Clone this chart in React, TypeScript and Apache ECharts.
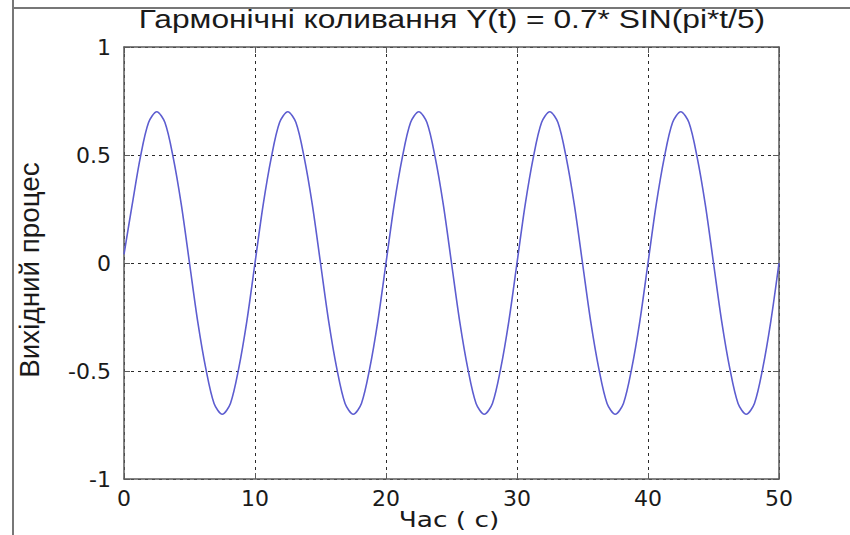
import React, { useEffect, useRef } from "react";
import * as echarts from "echarts";

const titleText = "Гармонічні коливання Y(t) = 0.7* SIN(pi*t/5)";
const xName = "Час ( с)";
const yName = "Вихідний процес";
const xMin = 0;
const xMax = 50;
const xStep = 10;
const yMin = -1;
const yMax = 1;
const yStep = 0.5;

const times = [
  0, 0.625, 1.25, 1.875, 2.5, 3.125, 3.75, 4.375,
  5, 5.625, 6.25, 6.875, 7.5, 8.125, 8.75, 9.375,
  10, 10.625, 11.25, 11.875, 12.5, 13.125, 13.75, 14.375,
  15, 15.625, 16.25, 16.875, 17.5, 18.125, 18.75, 19.375,
  20, 20.625, 21.25, 21.875, 22.5, 23.125, 23.75, 24.375,
  25, 25.625, 26.25, 26.875, 27.5, 28.125, 28.75, 29.375,
  30, 30.625, 31.25, 31.875, 32.5, 33.125, 33.75, 34.375,
  35, 35.625, 36.25, 36.875, 37.5, 38.125, 38.75, 39.375,
  40, 40.625, 41.25, 41.875, 42.5, 43.125, 43.75, 44.375,
  45, 45.625, 46.25, 46.875, 47.5, 48.125, 48.75, 49.375,
  50,
];

const values = [
  0.04, 0.27, 0.49, 0.65, 0.7, 0.65, 0.49, 0.27,
  0, -0.27, -0.49, -0.65, -0.7, -0.65, -0.49, -0.27,
  0, 0.27, 0.49, 0.65, 0.7, 0.65, 0.49, 0.27,
  0, -0.27, -0.49, -0.65, -0.7, -0.65, -0.49, -0.27,
  0, 0.27, 0.49, 0.65, 0.7, 0.65, 0.49, 0.27,
  0, -0.27, -0.49, -0.65, -0.7, -0.65, -0.49, -0.27,
  0, 0.27, 0.49, 0.65, 0.7, 0.65, 0.49, 0.27,
  0, -0.27, -0.49, -0.65, -0.7, -0.65, -0.49, -0.27,
  0, 0.27, 0.49, 0.65, 0.7, 0.65, 0.49, 0.27,
  0, -0.27, -0.49, -0.65, -0.7, -0.65, -0.49, -0.27,
  0,
];

export default function App() {
  const ref = useRef<HTMLDivElement>(null);
  useEffect(() => {
    if (!ref.current) return;
    const chart = echarts.init(ref.current, undefined, { renderer: "svg" });
    const axisColor = "#5a5a5a";
    const labelStyle = {
      fontFamily: "DejaVu Sans",
      fontSize: 22,
      color: "#1a1a1a",
    };
    const gridLine = {
      show: true,
      lineStyle: { color: "#2a2a2a", width: 1, type: [3, 4] as any },
    };
    const axisLine = { show: true, onZero: false, lineStyle: { color: axisColor, width: 1.5 } };
    const tick = { show: true, inside: true, length: 6, lineStyle: { color: axisColor } };
    chart.setOption({
      animation: false,
      backgroundColor: "#ffffff",
      grid: { left: 124, top: 47, width: 655, height: 432, containLabel: false },
      xAxis: [
        {
          type: "value",
          min: xMin,
          max: xMax,
          interval: xStep,
          position: "bottom",
          axisLine,
          axisTick: tick,
          axisLabel: { ...labelStyle, margin: 8 },
          splitLine: gridLine,
        },
        {
          type: "value",
          min: xMin,
          max: xMax,
          interval: xStep,
          position: "top",
          axisLine,
          axisTick: tick,
          axisLabel: { show: false },
          splitLine: { show: false },
        },
      ],
      yAxis: [
        {
          type: "value",
          min: yMin,
          max: yMax,
          interval: yStep,
          position: "left",
          axisLine,
          axisTick: tick,
          axisLabel: { ...labelStyle, margin: 13 },
          splitLine: gridLine,
        },
        {
          type: "value",
          min: yMin,
          max: yMax,
          interval: yStep,
          position: "right",
          axisLine,
          axisTick: tick,
          axisLabel: { show: false },
          splitLine: { show: false },
        },
      ],
      series: [
        {
          type: "line",
          xAxisIndex: 0,
          yAxisIndex: 0,
          data: times.map((t, i) => [t, values[i]]),
          smooth: 0.3,
          showSymbol: false,
          lineStyle: { color: "#5d5dd0", width: 1.6 },
        },
      ],
      graphic: [
        {
          type: "line",
          shape: { x1: 13, y1: 0, x2: 13, y2: 535 },
          style: { stroke: "#777777", lineWidth: 2 },
        },
        {
          type: "line",
          shape: { x1: 13, y1: 8, x2: 850, y2: 8 },
          style: { stroke: "#777777", lineWidth: 2 },
        },
        {
          type: "text",
          x: 452,
          y: 7,
          scaleX: 1.27,
          style: {
            text: titleText,
            fontFamily: "Liberation Sans",
            fontSize: 25,
            fill: "#1a1a1a",
            align: "center",
            verticalAlign: "top",
          },
        },
        {
          type: "text",
          x: 30,
          y: 270,
          rotation: Math.PI / 2,
          scaleX: 1.03,
          style: {
            text: yName,
            fontFamily: "Liberation Sans",
            fontSize: 27,
            fill: "#1a1a1a",
            align: "center",
            verticalAlign: "middle",
          },
        },
        {
          type: "text",
          x: 449,
          y: 508,
          scaleX: 1.2,
          style: {
            text: xName,
            fontFamily: "DejaVu Sans",
            fontSize: 22,
            fill: "#1a1a1a",
            align: "center",
            verticalAlign: "top",
          },
        },
      ],
    });
    return () => chart.dispose();
  }, []);
  return (
    <div
      ref={ref}
      style={{ position: "fixed", left: 0, top: 0, width: 850, height: 535, background: "#fff" }}
    />
  );
}
